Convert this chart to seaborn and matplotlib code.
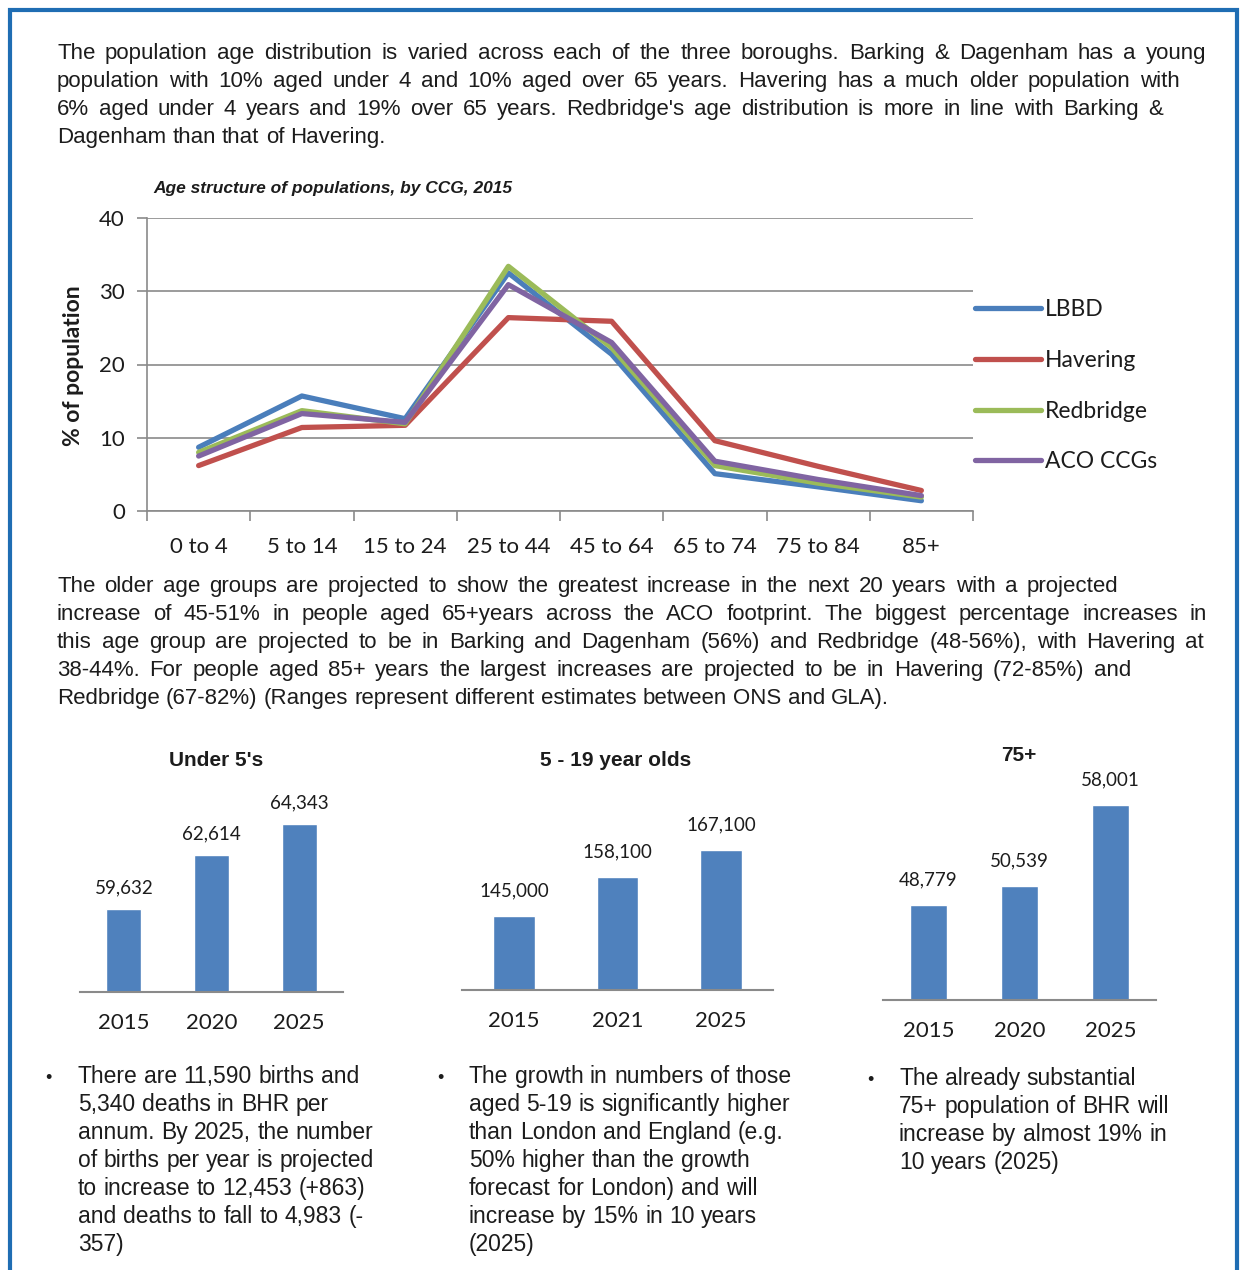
import matplotlib
matplotlib.use("Agg")
import matplotlib.pyplot as plt
from matplotlib.lines import Line2D
from matplotlib.patches import Rectangle
import pandas as pd
import seaborn as sns

# === LINE CHART DATA (% of population, 2015) ===
age_groups = ["0 to 4", "5 to 14", "15 to 24", "25 to 44", "45 to 64", "65 to 74", "75 to 84", "85+"]
lbbd = [8.7, 15.7, 12.6, 32.5, 21.4, 5.1, 3.3, 1.4]
havering = [6.2, 11.4, 11.7, 26.4, 25.9, 9.6, 6.1, 2.8]
redbridge = [8.0, 13.7, 11.9, 33.4, 22.3, 6.2, 3.8, 1.9]
aco_ccgs = [7.5, 13.3, 12.1, 30.9, 23.0, 6.8, 4.3, 2.1]
areas = ["LBBD", "Havering", "Redbridge", "ACO CCGs"]

# === BAR CHART DATA ===
under5_years = ["2015", "2020", "2025"]
under5_vals = [59632, 62614, 64343]
age5_19_years = ["2015", "2021", "2025"]
age5_19_vals = [145000, 158100, 167100]
over75_years = ["2015", "2020", "2025"]
over75_vals = [48779, 50539, 58001]

# === TEXT ===
para1 = [
    "The population age distribution is varied across each of the three boroughs. Barking & Dagenham has a young",
    "population with 10% aged under 4 and 10% aged over 65 years. Havering has a much older population with",
    "6% aged under 4 years and 19% over 65 years. Redbridge's age distribution is more in line with Barking &",
    "Dagenham than that of Havering.",
]
para2 = [
    "The older age groups are projected to show the greatest increase in the next 20 years with a projected",
    "increase of 45-51% in people aged 65+years across the ACO footprint. The biggest percentage increases in",
    "this age group are projected to be in Barking and Dagenham (56%) and Redbridge (48-56%), with Havering at",
    "38-44%. For people aged 85+ years the largest increases are projected to be in Havering (72-85%) and",
    "Redbridge (67-82%) (Ranges represent different estimates between ONS and GLA).",
]
bullet1 = ["There are 11,590 births and", "5,340 deaths in BHR per", "annum. By 2025, the number",
           "of births per year is projected", "to increase to 12,453 (+863)",
           "and deaths to fall to 4,983 (-", "357)"]
bullet2 = ["The growth in numbers of those", "aged 5-19 is significantly higher",
           "than London and England (e.g.", "50% higher than the growth",
           "forecast for London) and will", "increase by 15% in 10 years", "(2025)"]
bullet3 = ["The already substantial", "75+ population of BHR will",
           "increase by almost 19% in", "10 years (2025)"]

W, H = 1243, 1270
TXT = "#1c1c1c"
GRID = "#8a8a8a"
CHART_FONT = "Lato"
BODY_FONT = "Liberation Sans"
colors = ["#4a7ebb", "#c0504d", "#9bbb59", "#8064a2"]
bar_color = "#4f81bd"

sns.set_theme(style="white")
plt.rcParams["font.family"] = [BODY_FONT, "DejaVu Sans"]


def fx(x):
    return x / W


def fy(y):
    return 1 - y / H


def box(l, t, r, b):
    return [l / W, 1 - b / H, (r - l) / W, (b - t) / H]


fig = plt.figure(figsize=(W / 100, H / 100), dpi=100, facecolor="white")
renderer = fig.canvas.get_renderer()


def text_line(line, x0, base, size, x1=None):
    words = line.split()
    objs = [fig.text(0, fy(base), w, fontsize=size, family=BODY_FONT, color=TXT,
                     va="baseline", ha="left") for w in words]
    widths = [o.get_window_extent(renderer=renderer).width for o in objs]
    space = size * 0.28 * 100 / 72
    if x1 is None or len(words) < 2:
        gap = space
    else:
        gap = max((x1 - x0 - sum(widths)) / (len(words) - 1), space * 0.6)
    x = x0
    for o, w in zip(objs, widths):
        o.set_x(fx(x))
        x += w + gap


# paragraphs (right ends)
p1_ends = [1206, 1180, 1163, None]
for i, (line, end) in enumerate(zip(para1, p1_ends)):
    text_line(line, 57, 59 + 28 * i, 16, end)
p2_ends = [1118, 1207, 1204, 1131, None]
for i, (line, end) in enumerate(zip(para2, p2_ends)):
    text_line(line, 57, 592 + 28 * i, 16, end)

for bx, tx, top, lines in [(45, 78, 1083, bullet1), (437, 469, 1083, bullet2), (867, 899, 1085, bullet3)]:
    fig.text(fx(bx), fy(top), "\u2022", fontsize=13, color=TXT, va="baseline", ha="left")
    for i, line in enumerate(lines):
        text_line(line, tx, top + 28 * i, 16.5)

# === LINE CHART ===
df = pd.DataFrame({
    "Age": age_groups * 4,
    "Percent": lbbd + havering + redbridge + aco_ccgs,
    "Area": sum([[a] * len(age_groups) for a in areas], []),
})
ax = fig.add_axes(box(147, 218, 973, 511))
sns.lineplot(data=df, x="Age", y="Percent", hue="Area", hue_order=areas,
             palette=colors, sort=False, linewidth=3.8, legend=False, ax=ax,
             solid_joinstyle="round", solid_capstyle="round")
ax.set_xlim(-0.5, len(age_groups) - 0.5)
ax.set_ylim(0, 40)
ax.set_yticks([0, 10, 20, 30, 40])
ax.yaxis.grid(True, color=GRID, linewidth=1.2)
ax.set_axisbelow(True)
ax.set_xticks([i - 0.5 for i in range(len(age_groups) + 1)])
ax.set_xticklabels([])
ax.set_xticks(range(len(age_groups)), minor=True)
ax.set_xticklabels(age_groups, minor=True, fontsize=16, family=CHART_FONT, color=TXT)
ax.tick_params(axis="x", which="major", direction="out", length=7, width=1.2, color=GRID, bottom=True)
ax.tick_params(axis="x", which="minor", length=0, pad=19)
ax.tick_params(axis="y", direction="out", length=7, width=1.2, color=GRID, left=True, pad=9,
               labelsize=16, labelcolor=TXT)
for lbl in ax.get_yticklabels():
    lbl.set_family(CHART_FONT)
ax.set_xlabel("")
ax.set_ylabel("")
for side in ["top", "right"]:
    ax.spines[side].set_visible(False)
for side in ["left", "bottom"]:
    ax.spines[side].set_color(GRID)
    ax.spines[side].set_linewidth(1.2)

fig.text(fx(153), fy(188), "Age structure of populations, by CCG, 2015", fontsize=12.5,
         fontweight="bold", fontstyle="italic", color=TXT, va="center", ha="left")
fig.text(fx(73), fy(366), "% of population", fontsize=16.5, fontweight="bold", family=CHART_FONT,
         rotation=90, color=TXT, va="center", ha="center")

handles = [Line2D([0], [0], color=c, linewidth=3.8, solid_capstyle="round") for c in colors]
fig.legend(handles, areas, loc="upper left", bbox_to_anchor=(fx(975), fy(299)),
           frameon=False, borderpad=0, borderaxespad=0, handlelength=2.9, handletextpad=0.15,
           labelspacing=1.3, prop={"family": CHART_FONT, "size": 16.5}, labelcolor=TXT)

# === BAR CHARTS ===
bar_specs = [
    (under5_years, under5_vals, "Under 5's", (80, 790, 343, 992), (55000, 66250), 216, 760, 9),
    (age5_19_years, age5_19_vals, "5 - 19 year olds", (462, 790, 773, 990), (120000, 187300), 616, 760, 12),
    (over75_years, over75_vals, "75+", (883, 760, 1156, 1000), (40000, 62180), 1019, 755, 12),
]
for years, vals, title, (l, t, r, b), ylim, tx, ty, pad in bar_specs:
    bax = fig.add_axes(box(l, t, r, b))
    sns.barplot(x=years, y=vals, color=bar_color, saturation=1, width=0.4, ax=bax)
    bax.set_ylim(*ylim)
    bax.set_xlim(-0.5, 2.5)
    bax.bar_label(bax.containers[0], labels=[f"{v:,}" for v in vals], padding=pad,
                  fontsize=13.5, family=CHART_FONT, color=TXT)
    bax.set_yticks([])
    bax.tick_params(axis="x", length=0, pad=15, labelsize=16, labelcolor=TXT)
    for lbl in bax.get_xticklabels():
        lbl.set_family(CHART_FONT)
    for side in ["top", "right", "left"]:
        bax.spines[side].set_visible(False)
    bax.spines["bottom"].set_color(GRID)
    bax.spines["bottom"].set_linewidth(1.5)
    bax.set_facecolor("none")
    fig.text(fx(tx), fy(ty), title, fontsize=15, fontweight="bold", color=TXT,
             va="center", ha="center")

# blue page frame
fig.patches.append(Rectangle((fx(10), fy(1300)), fx(1237) - fx(10), fy(10) - fy(1300),
                             transform=fig.transFigure, fill=False, edgecolor="#1f6db3",
                             linewidth=3, clip_on=False))

fig.savefig("out.png", dpi=100, facecolor="white")
